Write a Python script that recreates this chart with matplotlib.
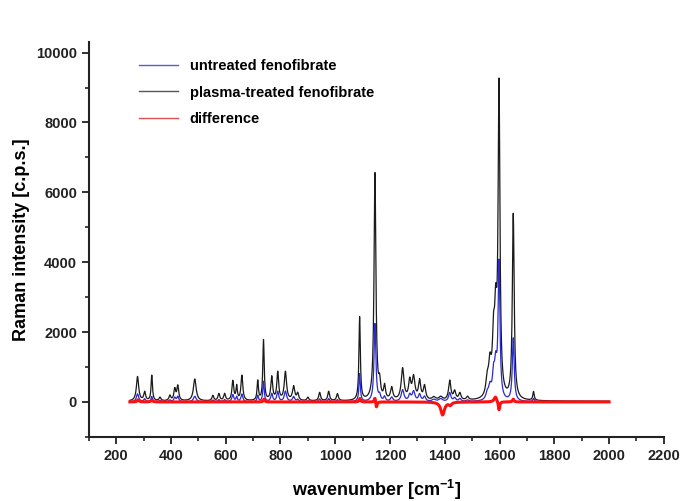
import numpy as np
import matplotlib
matplotlib.use("Agg")
from matplotlib import pyplot as plt
from matplotlib.ticker import MultipleLocator

plt.rcParams['font.family'] = ['Liberation Sans', 'DejaVu Sans']
plt.rcParams['font.weight'] = 'bold'
plt.rcParams['mathtext.fontset'] = 'custom'
plt.rcParams['mathtext.rm'] = 'Liberation Sans:bold'
plt.rcParams['mathtext.bf'] = 'Liberation Sans:bold'
plt.rcParams['mathtext.default'] = 'bf'

# peak table (cm-1, c.p.s.)
peak_pos = [278, 304, 330, 360, 396, 414, 425, 487, 553, 575, 596, 626, 640, 659,
            717, 738, 768, 790, 818, 848, 863, 900, 943, 976, 1008, 1089, 1145,
            1162, 1180, 1206, 1246, 1272, 1286, 1308, 1326, 1360, 1385, 1418,
            1436, 1455, 1483, 1555, 1565, 1578, 1586, 1598, 1650, 1724]
treated = [700, 250, 730, 100, 150, 330, 420, 630, 150, 200, 200, 560, 400, 720,
           560, 1730, 670, 800, 820, 400, 200, 100, 240, 270, 200, 2380, 6500,
           420, 380, 350, 900, 520, 640, 540, 400, 90, 100, 560,
           250, 200, 100, 450, 850, 1450, 2000, 8800, 5300, 250]
untreated = [230, 80, 150, 40, 50, 120, 150, 160, 50, 60, 60, 200, 140, 220,
             180, 580, 230, 290, 300, 140, 60, 30, 80, 90, 60, 800, 2230,
             150, 130, 120, 330, 180, 280, 200, 140, 60, 80, 250,
             100, 80, 40, 180, 350, 650, 850, 3900, 1800, 90]
widths = [5, 4, 3, 4, 4, 4, 4, 6, 4, 4, 4, 4, 3, 4,
          3, 3, 4, 4, 5, 5, 4, 4, 4, 4, 4, 3, 4,
          4, 4, 5, 6, 5, 6, 5, 5, 8, 8, 5,
          5, 5, 5, 6, 6, 5, 5, 4, 4, 3]

# difference trace features
diff_pos = [280, 330, 740, 1090, 1145, 1150, 1392, 1420, 1585, 1598, 1650]
diff_val = [60, 50, 80, 100, 150, -180, -370, -80, 150, -250, 80]
diff_wid = [4, 4, 3, 3, 3, 3, 8, 6, 6, 3, 3]

wn = np.arange(250, 2001, 1.0)


def spectrum(pos, hts, wid):
    y = np.zeros_like(wn)
    for p, h, w in zip(pos, hts, wid):
        y += h * w**2 / ((wn - p)**2 + w**2)
    return y


y_treated = spectrum(peak_pos, treated, widths) + 20
y_untreated = spectrum(peak_pos, untreated, widths)
y_diff = spectrum(diff_pos, diff_val, diff_wid)

fig = plt.figure(figsize=(6.83, 5.01), dpi=100)
ax = fig.add_axes([0.130, 0.128, 0.842, 0.788])

ax.plot(wn, y_treated, color='#1a1a1a', lw=0.9, label='plasma-treated fenofibrate')
ax.plot(wn, y_untreated, color='#2a2ad0', lw=0.9, label='untreated fenofibrate')
ax.plot(wn, y_diff, color='#ff1010', lw=2.2, label='difference')

ax.set_xlim(100, 2200)
ax.set_ylim(-1000, 10300)
ax.xaxis.set_minor_locator(MultipleLocator(100))
ax.yaxis.set_minor_locator(MultipleLocator(1000))
ax.set_xticks(np.arange(200, 2201, 200))
ax.set_yticks(np.arange(0, 10001, 2000))

for s in ['top', 'right']:
    ax.spines[s].set_visible(False)
for s in ['left', 'bottom']:
    ax.spines[s].set_linewidth(1.5)
    ax.spines[s].set_color('#222222')
ax.tick_params(which='major', direction='out', length=5, width=1.3, labelsize=10.5, colors='#222222')
ax.tick_params(which='minor', direction='out', length=3, width=1.2, colors='#222222')
for lbl in ax.get_xticklabels() + ax.get_yticklabels():
    lbl.set_fontweight('bold')

ax.set_xlabel(r'wavenumber [cm$^{-1}$]', fontsize=13, fontweight='bold', labelpad=11)
ax.set_ylabel('Raman intensity [c.p.s.]', fontsize=13, fontweight='bold', labelpad=4)

h, l = ax.get_legend_handles_labels()
order = [1, 0, 2]
leg = ax.legend([h[i] for i in order], [l[i] for i in order], loc='upper left',
                bbox_to_anchor=(0.064, 0.99), frameon=False, fontsize=10.5,
                handlelength=2.7, labelspacing=0.85)
leg_colors = ['#5a5ad0', '#555555', '#e05050']
for line, c in zip(leg.get_lines(), leg_colors):
    line.set_linewidth(1.0)
    line.set_color(c)
for t in leg.get_texts():
    t.set_fontweight('bold')

fig.savefig('out.png', dpi=100)
